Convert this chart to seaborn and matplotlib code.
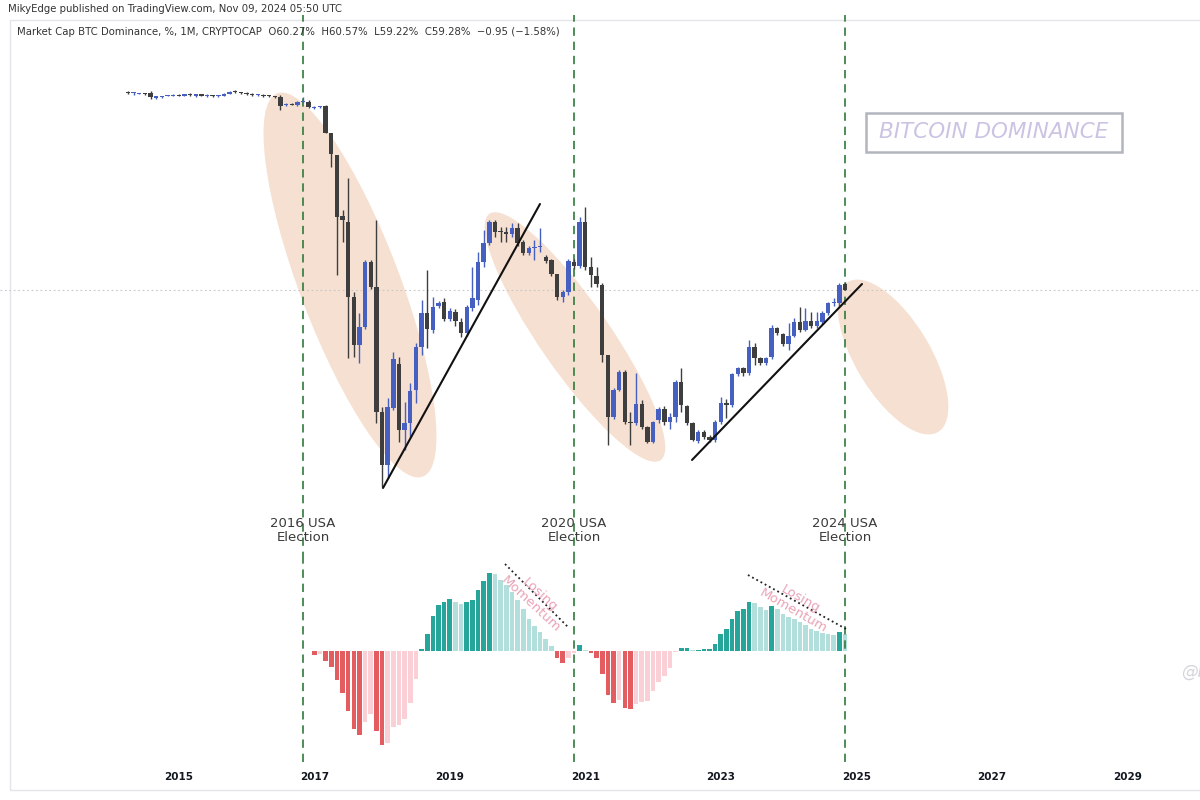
import numpy as np
import pandas as pd
import matplotlib.pyplot as plt
import matplotlib.transforms as mtransforms
from matplotlib.patches import Ellipse, Rectangle
import seaborn as sns

sns.set_style("white")
plt.rcParams['font.family'] = ['DejaVu Sans']

# Monthly BTC dominance candles (%), Apr 2014 .. Nov 2024
opens = [89.7, 89.6, 89.5, 89.5, 89.6, 88.8, 88.9, 89.2,
         89.2, 89.3, 89.2, 89.4, 89.1, 89.4, 89.2, 89.2,
         89.1, 89.2, 89.5, 89.8, 89.7, 89.6, 89.4, 89.3,
         89.3, 89.2, 89.1, 89.0, 87.8, 87.9, 87.7, 88.2,
         88.2, 87.3, 87.4, 87.6, 83.4, 80.1, 70.7, 69.7,
         58.2, 50.8, 53.6, 63.6, 59.7, 40.5, 32.4, 41.1,
         47.9, 37.7, 38.8, 43.9, 50.5, 55.7, 53.1, 56.8,
         57.4, 54.8, 55.9, 54.4, 52.7, 56.5, 57.7, 63.6,
         66.5, 69.7, 68.4, 68.2, 67.9, 68.8, 66.7, 65.0,
         65.7, 65.9, 64.4, 63.9, 61.7, 58.2, 59.0, 63.6,
         63.0, 69.7, 62.8, 61.4, 60.05, 49.3, 39.7, 43.9,
         46.7, 39.0, 38.8, 41.7, 38.2, 35.9, 39.3, 41.0,
         39.0, 39.7, 45.1, 41.4, 38.8, 36.05, 37.4, 36.7,
         36.2, 39.0, 41.9, 41.6, 46.4, 47.3, 46.5, 50.5,
         48.8, 48.05, 48.97, 53.4, 52.5, 51.0, 52.2, 54.4,
         53.1, 54.5, 53.7, 54.4, 55.7, 57.3, 57.3, 60.27]
highs = [89.9, 89.8, 89.6, 89.6, 89.9, 89.2, 89.2, 89.3,
         89.4, 89.5, 89.5, 89.6, 89.5, 89.5, 89.4, 89.3,
         89.3, 89.6, 89.9, 90.0, 89.8, 89.7, 89.6, 89.5,
         89.4, 89.3, 89.2, 89.3, 88.0, 88.0, 88.4, 88.9,
         88.5, 87.6, 87.6, 87.7, 83.4, 80.1, 71.6, 76.5,
         59.0, 55.7, 63.9, 63.9, 70.1, 41.3, 42.7, 49.7,
         48.9, 42.1, 45.0, 51.1, 57.7, 62.4, 58.2, 57.6,
         58.0, 56.5, 56.3, 55.0, 57.0, 62.8, 65.1, 68.5,
         70.0, 70.0, 69.0, 69.0, 69.6, 69.6, 67.0, 66.0,
         67.0, 68.8, 64.6, 64.0, 61.8, 59.3, 64.0, 64.0,
         70.5, 72.05, 64.4, 62.8, 60.4, 49.3, 44.2, 46.9,
         46.9, 40.5, 46.5, 42.4, 38.3, 39.2, 41.3, 41.5,
         40.4, 45.5, 47.3, 41.6, 39.0, 37.8, 37.8, 36.9,
         39.3, 42.8, 42.5, 46.5, 47.5, 47.5, 51.6, 51.1,
         49.0, 49.0, 53.9, 53.6, 52.7, 54.2, 55.0, 56.7,
         56.5, 55.9, 55.9, 56.0, 57.5, 58.05, 60.4, 60.57]
lows = [89.4, 89.3, 89.4, 89.3, 88.7, 88.7, 88.8, 89.1,
        89.1, 89.1, 89.1, 89.2, 89.0, 89.1, 89.0, 89.0,
        89.0, 89.1, 89.4, 89.6, 89.5, 89.3, 89.2, 89.1,
        89.0, 88.9, 88.8, 87.0, 87.6, 87.7, 87.6, 88.0,
        87.3, 87.2, 87.3, 83.4, 78.2, 61.6, 66.7, 48.8,
        49.0, 48.0, 53.3, 59.5, 38.8, 29.0, 30.4, 40.8,
        35.9, 34.7, 36.7, 41.9, 49.3, 50.4, 52.7, 56.5,
        54.5, 54.5, 53.8, 52.0, 52.2, 56.0, 57.0, 62.8,
        66.2, 67.5, 66.7, 66.7, 67.4, 66.0, 64.6, 64.7,
        63.9, 65.1, 63.5, 61.5, 57.7, 57.4, 58.5, 62.5,
        62.6, 62.3, 59.7, 59.7, 48.2, 35.4, 39.5, 43.7,
        38.7, 35.4, 38.5, 37.9, 35.7, 35.7, 38.8, 38.5,
        37.9, 39.0, 40.5, 38.5, 36.0, 35.8, 36.4, 35.9,
        35.9, 38.6, 39.6, 41.3, 46.0, 46.0, 46.2, 47.7,
        47.8, 47.8, 48.7, 52.4, 50.6, 50.05, 52.0, 52.8,
        52.9, 53.5, 53.5, 54.1, 55.5, 56.8, 56.8, 59.22]
closes = [89.6, 89.6, 89.5, 89.4, 88.9, 89.1, 89.1, 89.2,
          89.3, 89.2, 89.4, 89.3, 89.4, 89.2, 89.2, 89.1,
          89.2, 89.5, 89.8, 89.7, 89.6, 89.4, 89.3, 89.3,
          89.2, 89.1, 89.0, 87.6, 87.9, 87.8, 88.2, 88.4,
          87.4, 87.5, 87.5, 83.4, 80.2, 70.5, 70.1, 58.2,
          50.8, 53.6, 63.6, 59.7, 40.5, 32.4, 41.3, 48.7,
          37.7, 38.8, 43.7, 50.5, 55.7, 53.3, 56.7, 57.3,
          54.8, 56.05, 54.5, 52.7, 56.7, 58.05, 63.6, 66.5,
          69.7, 68.2, 68.2, 67.9, 68.8, 66.5, 65.0, 65.7,
          65.7, 65.9, 63.7, 61.7, 58.2, 59.0, 63.7, 63.0,
          69.7, 62.8, 61.6, 60.2, 49.3, 39.7, 43.9, 46.7,
          39.0, 38.8, 41.7, 38.2, 35.9, 39.0, 41.0, 39.0,
          39.7, 45.1, 41.6, 38.8, 36.2, 37.4, 36.7, 36.2,
          39.0, 41.9, 41.6, 46.4, 47.3, 46.5, 50.5, 48.8,
          48.05, 48.8, 53.4, 52.7, 51.0, 52.2, 54.4, 53.1,
          54.5, 53.7, 54.5, 55.7, 57.3, 57.4, 60.05, 59.28]
candle_start = '2014-04-01'

# Momentum histogram, Jan 2017 .. Nov 2024
momentum = [-0.4, -0.3, -1.0, -1.6, -2.9, -4.2, -6.0, -7.8,
            -8.4, -7.1, -6.3, -8.0, -9.4, -9.2, -7.6, -7.4,
            -6.8, -5.2, -2.8, 0.2, 1.7, 3.5, 4.6, 4.9,
            5.2, 4.9, 4.7, 4.9, 5.1, 6.1, 7.0, 7.8,
            7.7, 7.1, 6.6, 5.9, 5.1, 4.2, 3.2, 2.5,
            1.9, 1.2, 0.5, -0.7, -1.2, -0.7, -0.2, 0.6,
            0.15, -0.2, -0.7, -2.3, -4.4, -5.2, -4.9, -5.7,
            -5.8, -5.3, -5.1, -5.0, -4.0, -3.1, -2.5, -1.7,
            -0.1, 0.3, 0.32, 0.07, 0.15, 0.16, 0.25, 0.7,
            1.7, 2.2, 3.2, 4.0, 4.2, 4.9, 4.8, 4.4,
            4.1, 4.5, 4.2, 3.7, 3.4, 3.2, 2.9, 2.6,
            2.2, 2.0, 1.8, 1.7, 1.65, 1.9, 1.7]
momentum_start = '2017-01-01'

election_dates = ['2016-11-01', '2020-11-01', '2024-11-01']
election_labels = ['2016 USA\nElection', '2020 USA\nElection', '2024 USA\nElection']
year_ticks = [2015, 2017, 2019, 2021, 2023, 2025, 2027, 2029]
last_close = 59.28

UP, DOWN = '#4560c0', '#3e3e3e'
GREEN = '#2f7a3b'
PEACH = '#f6e0d1'
hist_pal = {'grow_above': '#26a69a', 'fall_above': '#b2dfdb',
            'grow_below': '#fbcfd6', 'fall_below': '#e35d60'}


def dec_year(d):
    return d.year + (d.month - 1) / 12


t = np.array([dec_year(d) for d in pd.date_range(candle_start, periods=len(opens), freq='MS')])
o, h, l, c = map(np.array, (opens, highs, lows, closes))

# histogram colouring like TradingView MACD
kinds = []
prev = 0.0
for v in momentum:
    if v >= 0:
        kinds.append('grow_above' if v > prev else 'fall_above')
    else:
        kinds.append('grow_below' if v > prev else 'fall_below')
    prev = v
hist_df = pd.DataFrame({
    't': [dec_year(d) for d in pd.date_range(momentum_start, periods=len(momentum), freq='MS')],
    'v': momentum,
    'kind': kinds,
})

elect_t = [dec_year(pd.Timestamp(d)) for d in election_dates]
xlim = (2012.361, 2030.073)

fig = plt.figure(figsize=(12, 8), dpi=100)

# background layer in pixel units: ellipses, frame, title box
bg = fig.add_axes([0, 0, 1, 1], zorder=0)
bg.set_xlim(0, 1200)
bg.set_ylim(0, 800)
bg.axis('off')
bg.add_patch(Rectangle((10, 10), 1195, 770, fill=False, edgecolor='#e3e5ea', lw=1))
for (cx, cy, w, hh, ang) in [(350, 515, 410, 100, -69.2),
                             (575, 463, 300, 70, -55.2),
                             (893, 443, 175, 75, -59.0)]:
    bg.add_patch(Ellipse((cx, cy), w, hh, angle=ang, facecolor=PEACH, edgecolor='none'))
bg.add_patch(Rectangle((866, 648), 256, 39, fill=False, edgecolor='#b2b5be', lw=1.8))
bg.text(994, 668, 'BITCOIN DOMINANCE', ha='center', va='center', fontsize=15.5,
        style='italic', color='#cbc3e3')
# watermark, cut by the right edge as in the screenshot
bg.text(1181, 128, '@MikyEdge', ha='left', va='center', fontsize=12,
        style='italic', color='#d4d4dc')

# price pane
ax = fig.add_axes([0, 0.30, 1, 0.68125], zorder=2)
ax.patch.set_alpha(0)
ax.set_xlim(*xlim)
ax.set_ylim(17.74, 101.59)
ax.axis('off')
ax.axhline(last_close, color='#c8c8c8', lw=0.8, ls=(0, (1.5, 2.5)), zorder=1)
cols = np.where(c >= o, UP, DOWN)
ax.vlines(t, l, h, colors=cols, lw=1, zorder=3)
ax.bar(t, np.maximum(np.abs(c - o), 0.15), bottom=np.minimum(o, c), width=0.065,
       color=cols, linewidth=0, zorder=4)
ax.plot([2018.014, 2020.331], [28.82, 72.51], color='#111111', lw=1.5, zorder=5)
ax.plot([2022.575, 2025.084], [33.13, 60.20], color='#111111', lw=1.5, zorder=5)
for x, lab in zip(elect_t, election_labels):
    ax.axvline(x, color=GREEN, lw=1.2, ls=(0, (5, 3.5)), zorder=2)
    ax.text(x, 22.3, lab, ha='center', va='center', fontsize=9.5, color='#3a3a3a',
            linespacing=1.15)

# momentum pane
hx = fig.add_axes([0, 0.0475, 1, 0.2525], zorder=2)
hx.patch.set_alpha(0)
sns.barplot(data=hist_df, x='t', y='v', hue='kind', palette=hist_pal, native_scale=True,
            dodge=False, width=0.82, errorbar=None, legend=False, saturation=1,
            linewidth=0, ax=hx)
hx.set_xlim(*xlim)
hx.set_ylim(-11.1, 9.1)
hx.axis('off')
for x in elect_t:
    hx.axvline(x, color=GREEN, lw=1.2, ls=(0, (5, 3.5)), zorder=2)
hx.plot([2019.815, 2020.744], [8.7, 2.4], color='#222222', lw=1.3, ls=':')
hx.plot([2023.401, 2024.877], [7.6, 2.1], color='#222222', lw=1.3, ls=':')
hx.text(2020.257, 5.1, 'Losing\nMomentum', rotation=-43, rotation_mode='anchor',
        ha='center', va='center', fontsize=9.5, color='#e9a3b5', linespacing=1.0)
hx.text(2024.125, 4.6, 'Losing\nMomentum', rotation=-30, rotation_mode='anchor',
        ha='center', va='center', fontsize=9.5, color='#e9a3b5', linespacing=1.0)

# time axis labels
trans = mtransforms.blended_transform_factory(hx.transData, fig.transFigure)
for yr in year_ticks:
    hx.text(yr, 1 - 777 / 800, str(yr), transform=trans, ha='center', va='center',
            fontsize=7.5, color='#131722', fontweight='bold', clip_on=False)

fig.text(8 / 1200, 1 - 9 / 800, 'MikyEdge published on TradingView.com, Nov 09, 2024 05:50 UTC',
         fontsize=7.3, color='#333333', va='center')
fig.text(17 / 1200, 1 - 32 / 800,
         'Market Cap BTC Dominance, %, 1M, CRYPTOCAP  O60.27%  H60.57%  L59.22%  C59.28%  \u22120.95 (\u22121.58%)',
         fontsize=7.3, color='#333333', va='center')

fig.savefig('out.png', dpi=100)
